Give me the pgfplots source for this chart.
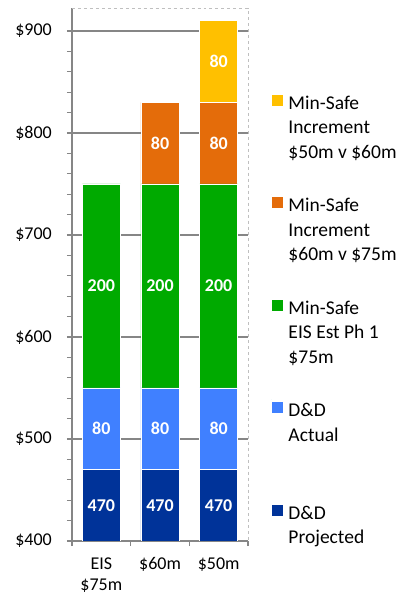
\documentclass[border=0pt]{standalone}
\usepackage{pgfplots}
\pgfplotsset{compat=1.18}
\usepackage{fontspec}
\setmainfont{Carlito}
\definecolor{cDB}{HTML}{003399}
\definecolor{cLB}{HTML}{4080FF}
\definecolor{cGR}{HTML}{00AA00}
\definecolor{cOR}{HTML}{E46C0A}
\definecolor{cYE}{HTML}{FFC000}
\definecolor{axgray}{HTML}{868686}
\pgfplotsset{lbl/.style={every node near coord/.style={font=\fontsize{18bp}{21.5bp}\selectfont\bfseries, text=white, anchor=center, yshift=#1}}}
\begin{document}
\fontsize{18bp}{21.5bp}\selectfont
\begin{tikzpicture}
\useasboundingbox (0,0) rectangle (409bp,597bp);
\begin{axis}[
  at={(72bp,56bp)}, anchor=south west,
  scale only axis, width=176bp, height=533bp,
  xmin=-0.5, xmax=2.5, ymin=400, ymax=922.5,
  ybar stacked, bar width=38bp,
  clip mode=individual,
  xtick={-0.5,0.5,1.5,2.5},
  x tick label as interval,
  xticklabels={{\rule{0pt}{13bp}EIS\\\$75m},{\rule{0pt}{13bp}\$60m},{\rule{0pt}{13bp}\$50m}},
  xticklabel style={align=center, font=\fontsize{18bp}{21bp}\selectfont, text=black, yshift=-8.8bp, inner ysep=1bp},
  ytick={400,500,600,700,800,900},
  yticklabels={\$400,\$500,\$600,\$700,\$800,\$900},
  yticklabel style={font=\fontsize{18bp}{21.5bp}\selectfont, text=black, xshift=-9bp},
  minor y tick num=4,
  ymajorgrids, grid style={axgray, line width=1.2bp},
  tick align=outside, major tick length=5bp, minor tick length=5bp,
  tick style={axgray, line width=1.2bp},
  axis x line*=bottom, axis y line*=left,
  axis line style={axgray, line width=1.3bp},
  x axis line style={-}, y axis line style={-},
  point meta=explicit,
  /pgf/number format/assume math mode=true,
  reverse legend,
  legend style={at={(1.1307,0.8424)}, anchor=north west, draw=none, fill=none,
    inner sep=0pt, outer sep=0pt, row sep=0pt, column sep=3bp,
    cells={anchor=north west},
    font=\fontsize{19.5bp}{24.5bp}\selectfont},
  legend image code/.code={\path (0bp,0bp) -- (0bp,-102bp); \fill[#1] (0bp,-14bp) rectangle (12bp,-2bp);},
]
\addplot[fill=cDB, draw=white, line width=0.5bp, nodes near coords, lbl=204bp]
  coordinates {(0,470) [470] (1,470) [470] (2,470) [470]};
\addlegendentry{\parbox[t]{135bp}{\rule{0pt}{15bp}D\&D\\Projected}}
\addplot[fill=cLB, draw=white, line width=0.5bp, nodes near coords, lbl=0bp]
  coordinates {(0,80) [80] (1,80) [80] (2,80) [80]};
\addlegendentry{\parbox[t]{135bp}{\rule{0pt}{15bp}D\&D\\Actual}}
\addplot[fill=cGR, draw=white, line width=0.5bp, nodes near coords, lbl=0bp]
  coordinates {(0,200) [200] (1,200) [200] (2,200) [200]};
\addlegendentry{\parbox[t]{135bp}{\rule{0pt}{15bp}Min-Safe\\EIS Est Ph 1\\\$75m}}
\addplot[fill=cOR, draw=white, line width=0.5bp, nodes near coords, lbl=0bp]
  coordinates {(1,80) [80] (2,80) [80]};
\addlegendentry{\parbox[t]{135bp}{\rule{0pt}{15bp}Min-Safe\\Increment\\\$60m v \$75m}}
\addplot[fill=cYE, draw=white, line width=0.5bp, nodes near coords, lbl=0bp]
  coordinates {(2,80) [80]};
\addlegendentry{\parbox[t]{135bp}{\rule{0pt}{15bp}Min-Safe\\Increment\\\$50m v \$60m}}
\draw[dashed, color=black!25, line width=0.8bp] (rel axis cs:0,1) -- (rel axis cs:1,1) -- (rel axis cs:1,0);
\end{axis}
\end{tikzpicture}
\end{document}
